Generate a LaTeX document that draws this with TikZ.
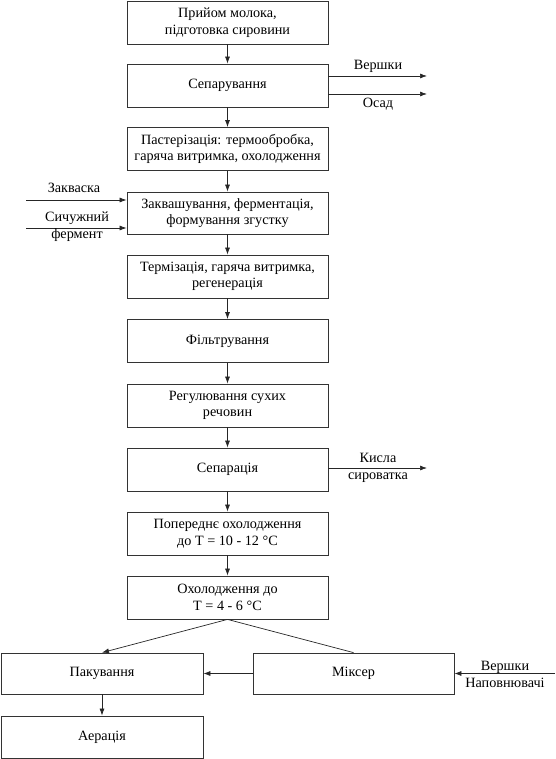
\documentclass[tikz,border=0pt]{standalone}
\usepackage{fontspec}
\setmainfont{Liberation Serif}
\usetikzlibrary{arrows.meta}
\tikzset{
    stage/.style={draw=black!80, line width=0.8pt, minimum width=201pt, minimum height=43pt, align=center, inner sep=2pt, font=\fontsize{14.2}{16.5}\selectfont},
    flow/.style={-{Latex[length=7pt,width=5pt]}, line width=0.7pt, color=black!85},
    side/.style={align=center, inner sep=0pt, font=\fontsize{14.2}{17}\selectfont}
}
\begin{document}
\begin{tikzpicture}[x=1pt, y=-1pt]
    \useasboundingbox (0,0) rectangle (555,759);
    % main column
    \node[stage] (receive) at (227.5,22.5) {Прийом молока,\\підготовка сировини};
    \node[stage] (separate) at (227.5,85.5) {Сепарування};
    \node[stage] (pasteur) at (227.5,149) {Пастерізація: термообробка,\\гаряча витримка, охолодження};
    \node[stage, minimum height=42pt] (ferment) at (227.5,213) {Заквашування, ферментація,\\формування згустку};
    \node[stage] (thermize) at (227.5,276.5) {Термізація, гаряча витримка,\\регенерація};
    \node[stage] (filter) at (227.5,341) {Фільтрування};
    \node[stage] (solids) at (227.5,405.5) {Регулювання сухих\\речовин};
    \node[stage] (separation) at (227.5,469.5) {Сепарація};
    \node[stage] (precool) at (227.5,533.5) {Попереднє охолодження\\до T = 10 - 12 °C};
    \node[stage] (cool) at (227.5,597.5) {Охолодження до\\T = 4 - 6 °C};
    % bottom row
    \node[stage, minimum width=202pt, minimum height=41pt] (pack) at (102,673.5) {Пакування};
    \node[stage, minimum height=41pt] (mixer) at (353.5,673.5) {Міксер};
    \node[stage, minimum width=202pt, minimum height=42pt] (aerate) at (102,737) {Аерація};

    \draw[flow] (receive) -- (separate);
    \draw[flow] (separate) -- (pasteur);
    \draw[flow] (pasteur) -- (ferment);
    \draw[flow] (ferment) -- (thermize);
    \draw[flow] (thermize) -- (filter);
    \draw[flow] (filter) -- (solids);
    \draw[flow] (solids) -- (separation);
    \draw[flow] (separation) -- (precool);
    \draw[flow] (precool) -- (cool);
    \draw[flow] (cool.south) -- (pack.north);
    \draw[line width=0.7pt, color=black!85] (cool.south) -- (mixer.north);
    \draw[flow] (mixer) -- (pack);
    \draw[flow] (pack) -- (aerate);

    % side streams
    \coordinate (cream) at (427,76);
    \coordinate (sludge) at (427,94);
    \coordinate (starter) at (26,200);
    \coordinate (rennet) at (26,228);
    \coordinate (whey) at (427,468);
    \coordinate (fillers) at (555,673.5);
    \draw[flow] ([yshift=9.5pt]separate.east) -- (cream);
    \draw[flow] ([yshift=-8.5pt]separate.east) -- (sludge);
    \draw[flow] (starter) -- ([yshift=13pt]ferment.west);
    \draw[flow] (rennet) -- ([yshift=-15pt]ferment.west);
    \draw[flow] ([yshift=1.5pt]separation.east) -- (whey);
    \draw[flow] (fillers) -- (mixer.east);
    \node[side] (creamlbl) at (378,66) {Вершки};
    \node[side] (sludgelbl) at (378,104) {Осад};
    \node[side] (starterlbl) at (74,188) {Закваска};
    \node[side] (rennetlbl) at (77,227) {Сичужний\\фермент};
    \node[side] (wheylbl) at (378,468) {Кисла\\сироватка};
    \node[side] (fillerslbl) at (505,674) {Вершки\\Наповнювачі};
\end{tikzpicture}
\end{document}
